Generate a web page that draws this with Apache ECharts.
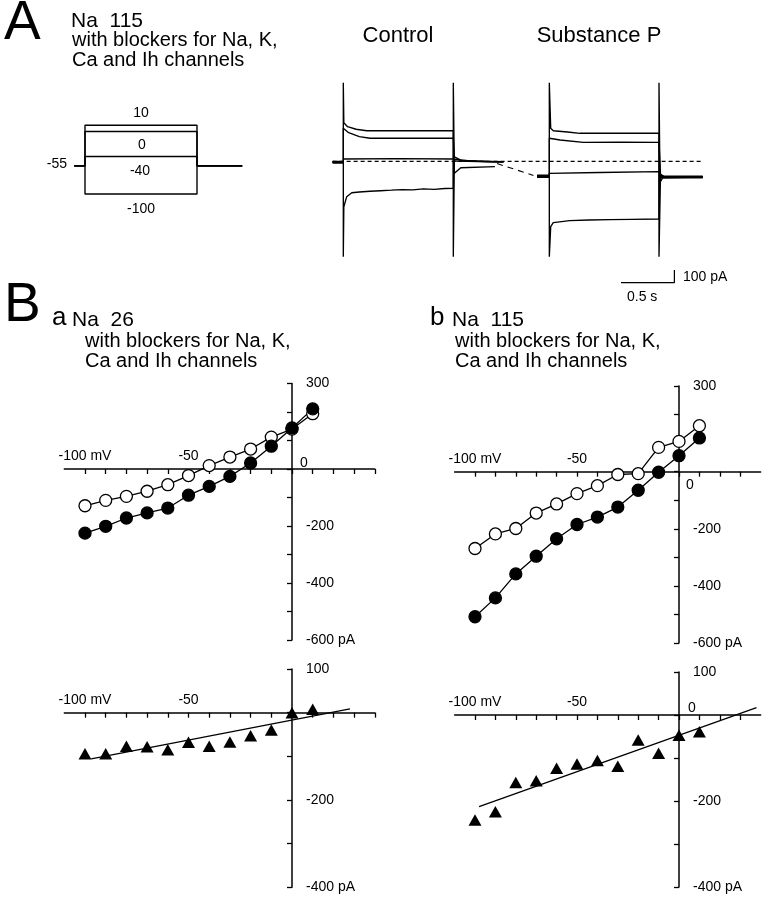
<!DOCTYPE html>
<html>
<head>
<meta charset="utf-8">
<script src="https://cdn.jsdelivr.net/npm/echarts@6/dist/echarts.min.js"></script>
<style>html,body{margin:0;padding:0;background:#fff}#c{width:770px;height:900px}</style>
</head>
<body>
<div id="c"></div>
<script>
// ---------- DATA ----------
// Panel A: voltage protocol (mV) and step timing (s)
const holdingMV = -55;
const stepLevelsMV = [10, 0, -40, -100];
const protoTimes = [-0.1, 0, 1.04, 1.46]; // start, step on, step off, end

// Panel A: current traces [time s, current pA]
const ctrlHold = [[-0.1, -2], [0, -2]];
const ctrlTrace10 = [[-0.1,-2],[0,-2],[0,624],[0.005,309],[0.04,278],[0.12,258],[0.22,246],[0.6,247],[1.03,246],[1.03,-746],[1.04,22],[1.15,10],[1.35,4],[1.5,2]];
const ctrlTrace0 = [[-0.1,-2],[0,-2],[0,265],[0.05,231],[0.15,200],[0.25,187],[0.6,188],[1.03,187],[1.04,40],[1.1,14],[1.25,6],[1.5,2]];
const ctrlTraceM40 = [[-0.1,-2],[0,-2],[0,24],[0.5,26],[1.03,24],[1.045,8],[1.5,0]];
const ctrlTraceM100 = [[-0.1,-2],[0,-2],[0,-746],[0.005,-352],[0.032,-273],[0.079,-242],[0.15,-236],[0.25,-230],[0.35,-226],[0.45,-222],[0.55,-217],[0.65,-220],[0.75,-212],[0.85,-215],[0.95,-209],[1.03,-207],[1.03,624],[1.04,-89],[1.1,-45],[1.42,-37]];
const spHold = [[1.814,-113],[1.929,-113]];
const spPost = [[2.975,-118],[3.365,-118]];
const spTrace10 = [[1.814,-113],[1.929,-113],[1.929,624],[1.942,265],[1.966,246],[2.1,236],[2.216,226],[2.6,226],[2.956,226],[2.956,-746],[2.97,-100],[3.0,-115],[3.365,-118]];
const spTrace0 = [[1.814,-113],[1.929,-113],[1.929,187],[2.03,173],[2.247,155],[2.6,156],[2.956,155],[2.97,-95],[3.0,-115],[3.365,-118]];
const spTraceM40 = [[1.814,-113],[1.929,-113],[1.929,-89],[2.4,-83],[2.956,-76],[2.97,-120],[3.365,-118]];
const spTraceM100 = [[1.814,-113],[1.929,-113],[1.929,-746],[1.942,-509],[1.966,-477],[2.12,-462],[2.3,-457],[2.5,-454],[2.7,-452],[2.956,-449],[2.956,624],[2.965,-160],[2.99,-125],[3.365,-118]];
const zeroLine = [[-0.1,5],[3.365,5]];
const shiftLine = [[1.44,-12],[1.78,-106]];
const scaleBar = [[2.60,-950],[3.10,-950],[3.10,-850]];

// Panel B: I-V relations
const voltages = [-100,-90,-80,-70,-60,-50,-40,-30,-20,-10,0,10];
const ivControlNa26 = [-129,-110,-96,-78,-55,-23,12,42,70,112,140,194];
const ivSubPNa26 = [-225,-201,-172,-154,-137,-92,-61,-26,21,80,144,211];
const ivControlNa115 = [-269,-218,-199,-145,-113,-77,-49,-10,-7,85,106,161];
const ivSubPNa115 = [-508,-442,-358,-296,-235,-185,-159,-124,-65,-2,56,118];
const diffNa26 = [-94,-94,-77,-78,-85,-68,-77,-67,-53,-40,0,8];
const diffNa115 = [-244,-225,-157,-153,-124,-114,-106,-119,-58,-89,-47,-39];
const fitNa26 = [[-97,-106],[28,8.6]];
const fitNa115 = [[-98,-213],[38,17]];

const xTicksA = [-100,-90,-80,-70,-60,-50,-40,-30,-20,-10,0,10,20,30,40];
const xTicksB = [-100,-90,-80,-70,-60,-50,-40,-30,-20,-10,0,10,20,30];
const xLabelVals = [-100,-50];
const yTicksUpper = [300,200,100,0,-100,-200,-300,-400,-500,-600];
const yLabelsUpper = [300,-200,-400,-600];
const yTicksLower = [100,0,-100,-200,-300,-400];
const yLabelsLower = [100,-200,-400];

// ---------- CHART ----------
const FONT = 'Liberation Sans';
const K = '#000';
const pair = (xs, ys) => xs.map((x, i) => [x, ys[i]]);

// grids (pixel boxes) for the IV panels; axes are moved onto the zero lines
const G = {
  baU: { left: 64.3, top: 383.5, width: 310.5, height: 256.5, xmin: -110, xmax: 40, ymin: -600, ymax: 300 },
  bbU: { left: 454.6, top: 386, width: 306, height: 257, xmin: -110, xmax: 40, ymin: -600, ymax: 300 },
  baL: { left: 64.3, top: 669, width: 310.5, height: 218.3, xmin: -110, xmax: 40, ymin: -400, ymax: 100 },
  bbL: { left: 454.6, top: 672, width: 306, height: 215, xmin: -110, xmax: 40, ymin: -400, ymax: 100 }
};
const zeroOffY = g => -(g.height * (0 - g.ymin) / (g.ymax - g.ymin));
const zeroOffX = g => -(g.width * (0 - g.xmin) / (g.xmax - g.xmin));

function ivX(gi, g, ticks) {
  return {
    type: 'value', gridIndex: gi, min: g.xmin, max: g.xmax, position: 'bottom', offset: zeroOffY(g),
    axisLine: { onZero: false, lineStyle: { color: K, width: 1.5 } },
    axisTick: { customValues: ticks, length: 5, lineStyle: { color: K, width: 1.3 } },
    axisLabel: { inside: true, customValues: xLabelVals, margin: 6, fontSize: 14, color: K, fontFamily: FONT,
      formatter: v => (v === -100 ? '-100 mV' : String(v)) },
    splitLine: { show: false }
  };
}
function ivY(gi, g, ticks, labels) {
  return {
    type: 'value', gridIndex: gi, min: g.ymin, max: g.ymax, position: 'left', offset: zeroOffX(g),
    axisLine: { onZero: false, lineStyle: { color: K, width: 1.5 } },
    axisTick: { customValues: ticks, length: 5, lineStyle: { color: K, width: 1.3 } },
    axisLabel: { inside: true, customValues: labels, margin: 14, fontSize: 14, color: K, fontFamily: FONT,
      showMinLabel: true, showMaxLabel: true,
      formatter: v => (v === g.ymin ? v + ' pA' : String(v)) },
    splitLine: { show: false }
  };
}
function hidden(gi, min, max) {
  return { type: 'value', gridIndex: gi, min: min, max: max, show: false, splitLine: { show: false } };
}
function trace(data, w) {
  return { type: 'line', xAxisIndex: 1, yAxisIndex: 1, data: data, symbol: 'none', clip: false,
    lineStyle: { color: K, width: w || 1.35 }, silent: true };
}
function txt(text, x, y, size, align) {
  return { type: 'text', x: x, y: y, silent: true,
    style: { text: text, fontSize: size, fontFamily: FONT, fill: K, align: align || 'left',
      verticalAlign: 'middle' } };
}

const protoSeries = stepLevelsMV.map(L => ({
  type: 'line', xAxisIndex: 0, yAxisIndex: 0, symbol: 'none', clip: false,
  lineStyle: { color: K, width: 1.4 },
  data: [[protoTimes[0], holdingMV], [protoTimes[1], holdingMV], [protoTimes[1], L],
         [protoTimes[2], L], [protoTimes[2], holdingMV], [protoTimes[3], holdingMV]]
}));

function ivLine(xi, ys, filled) {
  return { type: 'line', xAxisIndex: xi, yAxisIndex: xi, data: pair(voltages, ys),
    symbol: 'circle', symbolSize: 12, showSymbol: true,
    itemStyle: { color: filled ? K : '#fff', borderColor: K, borderWidth: 1.3, opacity: 1 },
    lineStyle: { color: K, width: 1.3 } };
}
function triScatter(xi, ys) {
  return { type: 'scatter', xAxisIndex: xi, yAxisIndex: xi, data: pair(voltages, ys),
    symbol: 'triangle', symbolSize: [13, 11.5], itemStyle: { color: K, opacity: 1 }, z: 3 };
}
function fitLine(xi, d) {
  return { type: 'line', xAxisIndex: xi, yAxisIndex: xi, data: d, symbol: 'none',
    lineStyle: { color: K, width: 1.3 }, z: 2 };
}
const gridBox = g => ({ left: g.left, top: g.top, width: g.width, height: g.height });

const option = {
  animation: false,
  backgroundColor: '#fff',
  grid: [
    { left: 74.23, top: 125.2, width: 172.3, height: 68.8 },   // protocol
    { left: 289.9, top: 60.4, width: 427.2, height: 228.6 },   // traces
    gridBox(G.baU), gridBox(G.bbU), gridBox(G.baL), gridBox(G.bbL)
  ],
  xAxis: [
    hidden(0, -0.1, 1.5),
    hidden(1, -0.5, 3.5),
    ivX(2, G.baU, xTicksA), ivX(3, G.bbU, xTicksB), ivX(4, G.baL, xTicksA), ivX(5, G.bbL, xTicksB)
  ],
  yAxis: [
    hidden(0, -100, 10),
    hidden(1, -1000, 800),
    ivY(2, G.baU, yTicksUpper, yLabelsUpper),
    ivY(3, G.bbU, yTicksUpper, yLabelsUpper),
    ivY(4, G.baL, yTicksLower, yLabelsLower),
    ivY(5, G.bbL, yTicksLower, yLabelsLower)
  ],
  series: [
    ...protoSeries,
    Object.assign(trace(zeroLine, 1), { lineStyle: { color: K, width: 1.1, type: [4, 3] } }),
    Object.assign(trace(shiftLine, 1), { lineStyle: { color: K, width: 1.1, type: [6, 5] } }),
    trace(ctrlHold, 3), trace(spHold, 3.5), trace(spPost, 3),
    trace(ctrlTrace10), trace(ctrlTrace0), trace(ctrlTraceM40), trace(ctrlTraceM100),
    trace(spTrace10), trace(spTrace0), trace(spTraceM40), trace(spTraceM100),
    trace(scaleBar, 1.2),
    ivLine(2, ivControlNa26, false), ivLine(2, ivSubPNa26, true),
    ivLine(3, ivControlNa115, false), ivLine(3, ivSubPNa115, true),
    fitLine(4, fitNa26), triScatter(4, diffNa26),
    fitLine(5, fitNa115), triScatter(5, diffNa115)
  ],
  graphic: [
    txt('A', 4, 24, 55),
    txt('Na  115', 71, 21.5, 21),
    txt('with blockers for Na, K,', 72, 40, 20),
    txt('Ca and Ih channels', 72, 60, 20),
    txt('Control', 398, 36, 22, 'center'),
    txt('Substance P', 599, 36, 22, 'center'),
    txt('10', 141, 113, 14, 'center'),
    txt('0', 142, 145, 14, 'center'),
    txt('-40', 140, 171, 14, 'center'),
    txt('-100', 141, 209, 14, 'center'),
    txt('-55', 67, 164, 14, 'right'),
    txt('100 pA', 683, 277.5, 14),
    txt('0.5 s', 627, 297, 14),
    txt('B', 4, 306, 55),
    txt('a', 52, 318, 26),
    txt('Na  26', 72, 320, 21),
    txt('with blockers for Na, K,', 85, 341, 20),
    txt('Ca and Ih channels', 85, 361.5, 20),
    txt('b', 430, 318, 26),
    txt('Na  115', 452, 320, 21),
    txt('with blockers for Na, K,', 455, 341, 20),
    txt('Ca and Ih channels', 455, 361.5, 20),
    txt('0', 300, 463, 14),
    txt('0', 686, 485.5, 14),
    txt('0', 688, 708, 14)
  ]
};
const chart = echarts.init(document.getElementById('c'), null, { renderer: 'canvas' });
chart.setOption(option);
</script>
</body>
</html>
